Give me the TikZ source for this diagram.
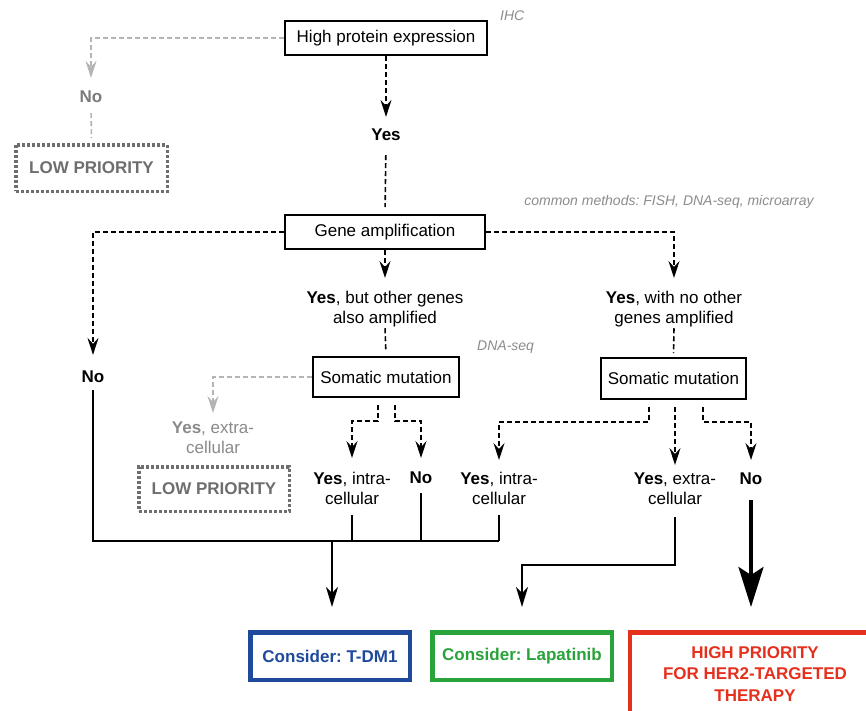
\documentclass[tikz,border=0pt]{standalone}
\usepackage{fontspec}
\setmainfont{Liberation Sans}
\usetikzlibrary{arrows.meta,calc}
\definecolor{notegray}{HTML}{8C8C8C}
\definecolor{lowgray}{HTML}{6E6E6E}
\definecolor{arrgray}{HTML}{B4B4B4}
\definecolor{txtgray}{HTML}{8A8A8A}
\definecolor{nogray}{HTML}{7A7A7A}
\definecolor{blueC}{HTML}{1F4A9C}
\definecolor{greenC}{HTML}{2AA33A}
\definecolor{redC}{HTML}{E6301E}
\frenchspacing
\begin{document}
\begin{tikzpicture}[x=1pt,y=-1pt,
  box/.style={draw, line width=1.8pt, inner sep=0pt, font=\fontsize{17}{20}\selectfont},
  lbl/.style={inner sep=0pt, align=center, font=\fontsize{17}{20}\selectfont},
  note/.style={inner sep=0pt, font=\fontsize{14}{16}\selectfont\itshape, text=notegray},
  dsh/.style={line width=1.6pt, dash pattern=on 5pt off 3pt},
  arr/.style={-{Stealth[length=17pt,width=11pt,inset=6pt]}},
  sline/.style={line width=1.6pt},
  sarr/.style={sline, -{Stealth[length=20pt,width=12pt,inset=6pt]}},
  bigarr/.style={line width=3.5pt, -{Stealth[length=40pt,width=25pt,inset=8pt]}},
  lowbox/.style={draw=lowgray, line width=3.5pt, dash pattern=on 3pt off 2pt, inner sep=0pt, text=lowgray, font=\bfseries\fontsize{17}{20}\selectfont},
  outbox/.style={line width=4.5pt, inner sep=0pt, font=\bfseries\fontsize{17}{21.5}\selectfont, align=center}
]
\clip (0,0) rectangle (866,710);
\fill[white] (0,0) rectangle (866,710);

% boxes
\node[box, minimum width=202.2pt, minimum height=34.2pt] (hpe) at (386,38) {High protein expression};
\node[box, minimum width=200.2pt, minimum height=34.2pt] (gene) at (385,232) {Gene amplification};
\node[box, minimum width=146.2pt, minimum height=40.2pt] (som1) at (386,377) {Somatic mutation};
\node[box, minimum width=145.2pt, minimum height=41.2pt] (som2) at (673.5,378.5) {Somatic mutation};
\node[lowbox, minimum width=151.5pt, minimum height=46.5pt] (low1) at (91.5,168) {LOW PRIORITY};
\node[lowbox, minimum width=150.5pt, minimum height=44.5pt] (low2) at (214,489) {LOW PRIORITY};
\node[outbox, draw=blueC, text=blueC, minimum width=159.5pt, minimum height=47.5pt] (tdm) at (330,656) {Consider: T-DM1};
\node[outbox, draw=greenC, text=greenC, minimum width=179.5pt, minimum height=47.5pt] (lap) at (522,656) {Consider: Lapatinib};
\node[outbox, draw=redC, text=redC, minimum width=250pt, minimum height=83.5pt] (hp) at (755,674) {HIGH PRIORITY\\FOR HER2-TARGETED\\THERAPY};

% notes
\node[note, anchor=west] (ihc) at (500,16) {IHC};
\node[note] (cm) at (669,202) {common methods: FISH, DNA-seq, microarray};
\node[note, anchor=west] (dna) at (477,347) {DNA-seq};

% labels
\node[lbl, text=nogray, font=\bfseries\fontsize{17}{20}\selectfont] (no1) at (91,97) {No};
\node[lbl, font=\bfseries\fontsize{17}{20}\selectfont] (yes1) at (386,135) {Yes};
\node[lbl, font=\bfseries\fontsize{17}{20}\selectfont] (no2) at (93,377) {No};
\node[lbl, anchor=north] (yb) at (385,291) {\textbf{Yes}, but other genes\\also amplified};
\node[lbl, anchor=north] (yw) at (674,291) {\textbf{Yes}, with no other\\genes amplified};
\node[lbl, anchor=north, text=txtgray] (ye1) at (213,422) {\textbf{Yes}, extra-\\cellular};
\node[lbl, anchor=north] (yi1) at (352,472) {\textbf{Yes}, intra-\\cellular};
\node[lbl, anchor=north, font=\bfseries\fontsize{17}{20}\selectfont] (no3) at (421,472) {No};
\node[lbl, anchor=north] (yi2) at (499,472) {\textbf{Yes}, intra-\\cellular};
\node[lbl, anchor=north] (ye2) at (675,473) {\textbf{Yes}, extra-\\cellular};
\node[lbl, anchor=north, font=\bfseries\fontsize{17}{20}\selectfont] (no4) at (751,473) {No};

% helper coordinates
\coordinate (bus) at (0,541);
\coordinate (lb) at (0,565);
\coordinate (s1l) at ($(som1.south)+(-8,0)$);
\coordinate (s1r) at ($(som1.south)+(9,0)$);
\coordinate (s2l) at ($(som2.south)+(-24.5,0)$);
\coordinate (s2r) at ($(som2.south)+(29.5,0)$);
\coordinate (t1) at (0,421);
\coordinate (t2) at (0,422);

% gray branch top
\draw[dsh, arrgray, arr, shorten >=13pt] (hpe.west) -| (no1.north);
\draw[dsh, arrgray, shorten <=10pt, shorten >=5pt] (no1.south) -- (low1.north);
% main line
\draw[dsh, arr, shorten >=12pt] (hpe.south) -- (yes1.north);
\draw[dsh, shorten <=14pt, shorten >=7pt] (yes1.south) -- (gene.north);
% gene amplification branches
\draw[dsh, arr, shorten >=16pt] (gene.west) -| (no2.north);
\draw[dsh, arr, shorten >=13pt] (gene.south) -- (yb.north);
\draw[dsh, arr, shorten >=13pt] (gene.east) -| (yw.north);
\draw[dsh, shorten <=1pt, shorten >=4pt] (yb.south) -- (som1.north);
\draw[dsh, shorten <=1pt, shorten >=4pt] (yw.south) -- (som2.north);
% somatic mutation 1
\draw[dsh, arrgray, arr, shorten >=9pt] (som1.west) -| (ye1.north);
\draw[dsh, arr, shorten <=7pt, shorten >=14pt] (s1l) |- (s1l |- t1) -| (yi1.north);
\draw[dsh, arr, shorten <=7pt, shorten >=14pt] (s1r) |- (s1r |- t1) -| (no3.north);
% somatic mutation 2
\draw[dsh, arr, shorten <=7pt, shorten >=12pt] (s2l) |- (s2l |- t2) -| (yi2.north);
\draw[dsh, arr, shorten <=7pt, shorten >=8pt] (som2.south -| ye2.north) -- (ye2.north);
\draw[dsh, arr, shorten <=7pt, shorten >=13pt] (s2r) |- (s2r |- t2) -| (no4.north);

% solid bottom connectors
\draw[sline, shorten <=7pt] (no2.south) |- (yi2.south |- bus);
\draw[sline, shorten <=10pt] (yi1.south) -- (yi1.south |- bus);
\draw[sline, shorten <=9pt] (no3.south) -- (no3.south |- bus);
\draw[sline, shorten <=10pt] (yi2.south) -- (yi2.south |- bus);
\draw[sarr, shorten >=23pt] ($(tdm.north |- bus)+(2,0)$) -- ($(tdm.north)+(2,0)$);
\draw[sarr, shorten <=12pt, shorten >=23pt] (ye2.south) -- (ye2.south |- lb) -| (lap.north);
\draw[bigarr, shorten <=15pt, shorten >=23pt] (no4.south) -- (no4.south |- hp.north);
\end{tikzpicture}
\end{document}
